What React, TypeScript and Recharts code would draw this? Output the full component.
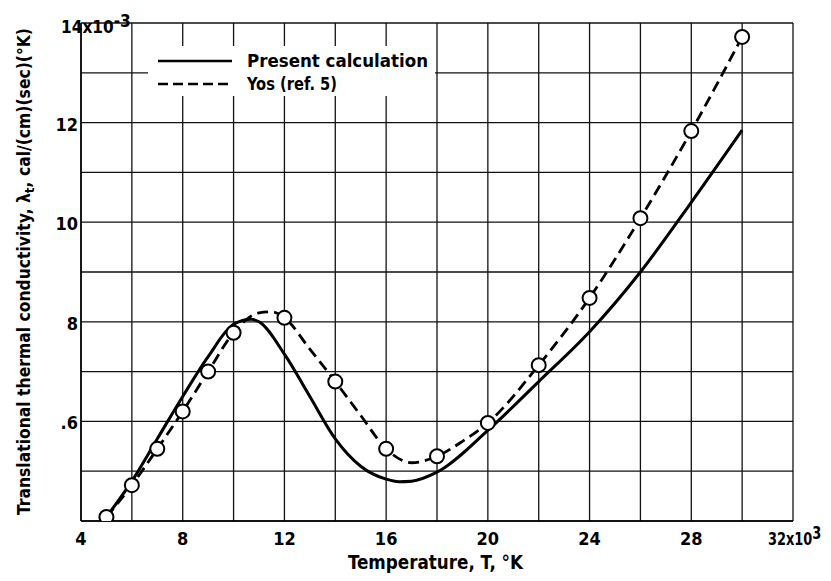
import React from 'react';
import { ComposedChart, Line, Scatter, XAxis, YAxis, CartesianGrid, Customized } from 'recharts';

// Present calculation (solid curve)
const presentT = [5, 6, 7, 8, 9, 10, 10.7, 11, 12, 13, 14, 15, 16, 16.5, 17, 18, 20, 22, 24, 26, 28, 30];
const presentK = [4.08, 4.8, 5.65, 6.5, 7.3, 7.95, 8.05, 8.0, 7.35, 6.5, 5.65, 5.1, 4.84, 4.79, 4.8, 4.98, 5.82, 6.8, 7.8, 9.0, 10.4, 11.85];

// Yos (ref. 5) dashed curve
const yosCurveT = [5, 6, 7, 8, 9, 10, 11, 11.5, 12, 13, 14, 15, 16, 17, 18, 19, 20, 22, 24, 26, 28, 30];
const yosCurveK = [4.08, 4.72, 5.45, 6.2, 7.0, 7.78, 8.18, 8.2, 8.08, 7.45, 6.8, 6.12, 5.45, 5.17, 5.3, 5.6, 5.97, 7.13, 8.48, 10.08, 11.83, 13.72];

// Yos (ref. 5) circle points
const yosPointT = [5, 6, 7, 8, 9, 10, 12, 14, 16, 18, 20, 22, 24, 26, 28, 30];
const yosPointK = [4.08, 4.72, 5.45, 6.2, 7.0, 7.78, 8.08, 6.8, 5.45, 5.3, 5.97, 7.13, 8.48, 10.08, 11.83, 13.72];

const xTicks = [4, 6, 8, 10, 12, 14, 16, 18, 20, 22, 24, 26, 28, 30, 32];
const xLabelTicks = [4, 8, 12, 16, 20, 24, 28, 32];
const yTicks = [4, 5, 6, 7, 8, 9, 10, 11, 12, 13, 14];
const yLabelTicks = [6, 8, 10, 12, 14];
const yLabelText = ['.6', '8', '10', '12', '14x10'];

const presentData = presentT.map((t, i) => ({ t, k: presentK[i] }));
const yosCurveData = yosCurveT.map((t, i) => ({ t, k: yosCurveK[i] }));
const yosPointData = yosPointT.map((t, i) => ({ t, k: yosPointK[i] }));

const FONT = '"DejaVu Sans Condensed", "DejaVu Sans", sans-serif';
const W = 'bold';

const XTick = (props: any) => {
  const { x, payload } = props;
  const v = payload.value;
  if (!xLabelTicks.includes(v)) return null;
  if (v === 32) {
    return (
      <text transform={`translate(${x - 25}, 545) scale(0.8, 1)`} x={0} y={0} textAnchor="start" fontFamily={FONT} fontWeight={W} fontSize={18} fill="#000">
        32x10<tspan dy={-6}>3</tspan>
      </text>
    );
  }
  return (
    <text x={x} y={545} textAnchor="middle" fontFamily={FONT} fontWeight={W} fontSize={18} fill="#000">
      {v}
    </text>
  );
};

const YTick = (props: any) => {
  const { y, payload } = props;
  const v = payload.value;
  const idx = yLabelTicks.indexOf(v);
  if (idx < 0) return null;
  if (v === 14) {
    return (
      <text transform={`translate(61, ${y + 10}) scale(0.95, 1)`} x={0} y={0} textAnchor="start" fontFamily={FONT} fontWeight={W} fontSize={18} fill="#000">
        {yLabelText[idx]}<tspan dy={-6}>-3</tspan>
      </text>
    );
  }
  return (
    <text x={78} y={y + 8} textAnchor="end" fontFamily={FONT} fontWeight={W} fontSize={18} fill="#000">
      {yLabelText[idx]}
    </text>
  );
};

const Decorations = () => (
  <g>
    <rect x={148} y={46} width={287} height={50} fill="#fff" />
    <line x1={158} y1={61} x2={232} y2={61} stroke="#000" strokeWidth={2.5} />
    <line x1={158} y1={84} x2={232} y2={84} stroke="#000" strokeWidth={2.5} strokeDasharray="10 5" />
    <text x={247} y={67} fontFamily={FONT} fontWeight={W} fontSize={18} fill="#000" textLength={181} lengthAdjust="spacingAndGlyphs">
      Present calculation
    </text>
    <text x={247} y={90} fontFamily={FONT} fontWeight={W} fontSize={18} fill="#000" textLength={90} lengthAdjust="spacingAndGlyphs">
      Yos (ref. 5)
    </text>
    <text x={435.5} y={569} textAnchor="middle" fontFamily={FONT} fontWeight={W} fontSize={20} fill="#000" textLength={175} lengthAdjust="spacingAndGlyphs">
      Temperature, T, °K
    </text>
    <text
      x={30}
      y={271.5}
      textAnchor="middle"
      transform="rotate(-90, 30, 271.5)"
      fontFamily={FONT}
      fontWeight={W}
      fontSize={17}
      fill="#000"
      textLength={487}
      lengthAdjust="spacingAndGlyphs"
    >
      Translational thermal conductivity, λ<tspan dy={4} fontSize={13}>t</tspan><tspan dy={-4}>, cal/(cm)(sec)(°K)</tspan>
    </text>
  </g>
);

const Circle = (props: any) => {
  const { cx, cy } = props;
  return <circle cx={cx} cy={cy} r={7} fill="#fff" stroke="#000" strokeWidth={2} />;
};

export default function App() {
  return (
    <div style={{ position: 'absolute', left: 0, top: 0, background: '#fff' }}>
      <ComposedChart
        width={831}
        height={581}
        margin={{ top: 23, right: 38, left: 0, bottom: 0 }}
        style={{ background: '#fff' }}
      >
        <CartesianGrid stroke="#111" strokeWidth={1.3} />
        <XAxis
          type="number"
          dataKey="t"
          domain={[4, 32]}
          ticks={xTicks}
          interval={0}
          height={60}
          tickLine={false}
          axisLine={{ stroke: '#000', strokeWidth: 1.5 }}
          tick={<XTick />}
          allowDataOverflow
        />
        <YAxis
          type="number"
          dataKey="k"
          domain={[4, 14]}
          ticks={yTicks}
          interval={0}
          width={81}
          tickLine={false}
          axisLine={{ stroke: '#000', strokeWidth: 1.5 }}
          tick={<YTick />}
          allowDataOverflow
        />
        <Customized component={Decorations} />
        <Line
          data={presentData}
          dataKey="k"
          type="monotone"
          stroke="#000"
          strokeWidth={3}
          dot={false}
          activeDot={false}
          isAnimationActive={false}
        />
        <Line
          data={yosCurveData}
          dataKey="k"
          type="monotone"
          stroke="#000"
          strokeWidth={2.8}
          strokeDasharray="11 6"
          dot={false}
          activeDot={false}
          isAnimationActive={false}
        />
        <Scatter data={yosPointData} dataKey="k" shape={<Circle />} isAnimationActive={false} />
      </ComposedChart>
    </div>
  );
}
